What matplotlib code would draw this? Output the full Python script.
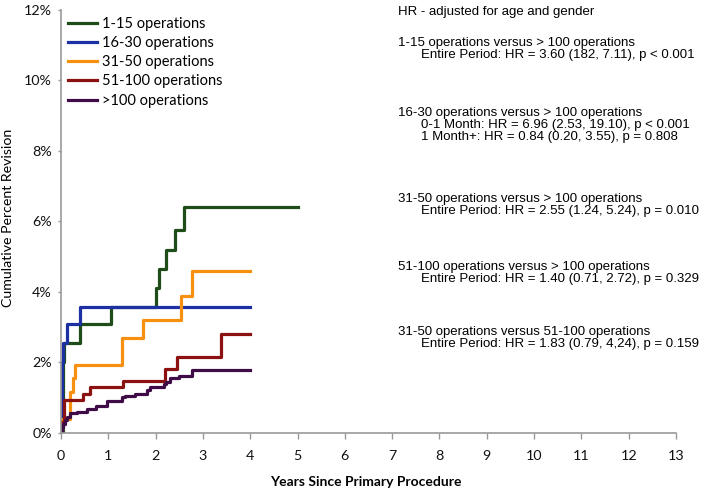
import matplotlib
matplotlib.use("Agg")
import matplotlib.pyplot as plt

# =================== DỮ LIỆU ===================
labels = ["1-15 operations", "16-30 operations", "31-50 operations",
          "51-100 operations", ">100 operations"]
colors = ["#1e4d1a", "#1c2fa3", "#f7900f", "#8c1212", "#3f0c47"]

# (năm, % tích lũy) — hàm bậc thang
x_1_15 = [0, 0.05, 0.06, 0.41, 1.05, 2.0, 2.07, 2.21, 2.4, 2.6, 5.0]
y_1_15 = [0, 2.0, 2.55, 3.07, 3.57, 4.1, 4.63, 5.18, 5.75, 6.4, 6.4]

x_16_30 = [0, 0.03, 0.05, 0.12, 0.4, 4.0]
y_16_30 = [0, 2.0, 2.55, 3.07, 3.57, 3.57]

x_31_50 = [0, 0.03, 0.2, 0.26, 0.3, 1.29, 1.73, 2.54, 2.77, 4.0]
y_31_50 = [0, 0.4, 1.16, 1.54, 1.92, 2.7, 3.2, 3.88, 4.6, 4.6]

x_51_100 = [0, 0.02, 0.06, 0.46, 0.62, 1.31, 2.19, 2.45, 3.38, 4.0]
y_51_100 = [0, 0.3, 0.93, 1.1, 1.29, 1.48, 1.81, 2.16, 2.79, 2.79]

x_100 = [0, 0.02, 0.05, 0.08, 0.12, 0.2, 0.34, 0.55, 0.75, 0.98, 1.29, 1.36,
         1.57, 1.81, 1.88, 2.17, 2.22, 2.3, 2.5, 2.77, 4.0]
y_100 = [0, 0.15, 0.25, 0.35, 0.45, 0.55, 0.6, 0.68, 0.77, 0.9, 1.0, 1.05,
         1.1, 1.2, 1.3, 1.39, 1.45, 1.55, 1.62, 1.78, 1.78]

series_x = [x_1_15, x_16_30, x_31_50, x_51_100, x_100]
series_y = [y_1_15, y_16_30, y_31_50, y_51_100, y_100]

x_ticks = list(range(0, 14))
y_ticks = [0, 2, 4, 6, 8, 10, 12]

hr_header = "HR - adjusted for age and gender"
hr_blocks = [
    ("1-15 operations versus > 100 operations",
     ["Entire Period: HR = 3.60 (182, 7.11), p < 0.001"]),
    ("16-30 operations versus > 100 operations",
     ["0-1 Month: HR = 6.96 (2.53, 19.10), p < 0.001",
      "1 Month+: HR = 0.84 (0.20, 3.55), p = 0.808"]),
    ("31-50 operations versus > 100 operations",
     ["Entire Period: HR = 2.55 (1.24, 5.24), p = 0.010"]),
    ("51-100 operations versus > 100 operations",
     ["Entire Period: HR = 1.40 (0.71, 2.72), p = 0.329"]),
    ("31-50 operations versus 51-100 operations",
     ["Entire Period: HR = 1.83 (0.79, 4,24), p = 0.159"]),
]
block_y = [43, 113, 199, 267, 332]  # pixel (từ trên xuống)

# =================== VẼ ===================
W, H = 708, 490
fig = plt.figure(figsize=(W / 100, H / 100), dpi=100)
ax_w, ax_h = 615, 423
ax = fig.add_axes([61 / W, 1 - 432.7 / H, ax_w / W, ax_h / H])

for xs, ys, c, lab in zip(series_x, series_y, colors, labels):
    ax.plot(xs, ys, drawstyle="steps-post", color=c, linewidth=2.3, label=lab)

ax.set_xlim(0, 13)
ax.set_ylim(0, 12)
ax.set_xticks(x_ticks)
ax.set_yticks(y_ticks)
ax.set_yticklabels([f"{v}%" for v in y_ticks])
tick_font = "Lato"
for lab in ax.get_xticklabels() + ax.get_yticklabels():
    lab.set_fontfamily(tick_font)
    lab.set_fontsize(10.3)
ax.tick_params(labelcolor="#111111", color="#999999", width=1, direction="out")
ax.tick_params(axis="x", length=4.5, pad=8)
ax.tick_params(axis="y", length=2.5, pad=4)
for s in ["top", "right"]:
    ax.spines[s].set_visible(False)
for s in ["left", "bottom"]:
    ax.spines[s].set_color("#999999")
    ax.spines[s].set_linewidth(1.2)

ax.set_xlabel("Years Since Primary Procedure", fontfamily=tick_font,
              fontweight="bold", fontsize=10, va="center")
ax.xaxis.set_label_coords((366 - 61) / ax_w, -(482 - 432.7) / ax_h)
ax.set_ylabel("Cumulative Percent Revision", fontfamily=tick_font,
              fontsize=10.2, va="center")
ax.yaxis.set_label_coords(-(61 - 8) / ax_w, 0.5 + (423 / 2 - (218 - 9.7)) / ax_h)

ax.legend(loc="upper left", bbox_to_anchor=(7 / ax_w, 1 - 7 / ax_h), frameon=False,
          prop={"family": tick_font, "size": 10.5}, handlelength=2.0,
          handletextpad=0.3, labelspacing=0.36, borderaxespad=0, borderpad=0)

# ---- Khối HR bên phải ----
fs = 9.5
fig.text(398 / W, 1 - 12.5 / H, hr_header, fontfamily="Liberation Sans",
         fontsize=fs, va="center", ha="left")
for (title, lines), yp in zip(hr_blocks, block_y):
    fig.text(398 / W, 1 - yp / H, title, fontfamily="Liberation Sans",
             fontsize=fs, va="center", ha="left")
    for i, ln in enumerate(lines):
        fig.text(421 / W, 1 - (yp + 12 * (i + 1)) / H, ln,
                 fontfamily="Liberation Sans", fontsize=fs, va="center", ha="left")

plt.savefig("out.png", dpi=100)
plt.close()
